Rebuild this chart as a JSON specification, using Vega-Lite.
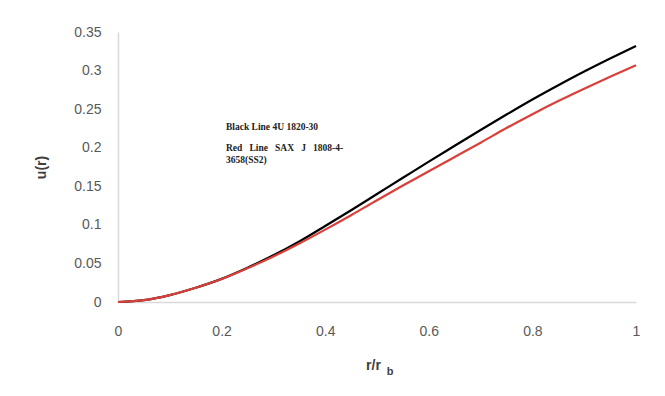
{
  "$schema": "https://vega.github.io/schema/vega-lite/v6.json",
  "autosize": "none",
  "width": 518,
  "height": 270,
  "padding": {"left": 118, "top": 32, "right": 29, "bottom": 94},
  "background": "white",
  "config": {"view": {"stroke": null}, "font": "Liberation Sans", "axis": {"labelOverlap": false}},
  "datasets": {
    "curves": [
      {"x": 0, "u": 0, "s": "black"},
      {"x": 0.05, "u": 0.0025, "s": "black"},
      {"x": 0.1, "u": 0.009, "s": "black"},
      {"x": 0.15, "u": 0.0185, "s": "black"},
      {"x": 0.2, "u": 0.030, "s": "black"},
      {"x": 0.25, "u": 0.0445, "s": "black"},
      {"x": 0.3, "u": 0.0605, "s": "black"},
      {"x": 0.35, "u": 0.0785, "s": "black"},
      {"x": 0.4, "u": 0.0985, "s": "black"},
      {"x": 0.45, "u": 0.119, "s": "black"},
      {"x": 0.5, "u": 0.140, "s": "black"},
      {"x": 0.55, "u": 0.161, "s": "black"},
      {"x": 0.6, "u": 0.182, "s": "black"},
      {"x": 0.65, "u": 0.2025, "s": "black"},
      {"x": 0.7, "u": 0.223, "s": "black"},
      {"x": 0.75, "u": 0.243, "s": "black"},
      {"x": 0.8, "u": 0.2625, "s": "black"},
      {"x": 0.85, "u": 0.281, "s": "black"},
      {"x": 0.9, "u": 0.2988, "s": "black"},
      {"x": 0.95, "u": 0.3157, "s": "black"},
      {"x": 1, "u": 0.332, "s": "black"},
      {"x": 0, "u": 0, "s": "red"},
      {"x": 0.05, "u": 0.0025, "s": "red"},
      {"x": 0.1, "u": 0.009, "s": "red"},
      {"x": 0.15, "u": 0.0185, "s": "red"},
      {"x": 0.2, "u": 0.0298, "s": "red"},
      {"x": 0.25, "u": 0.0438, "s": "red"},
      {"x": 0.3, "u": 0.059, "s": "red"},
      {"x": 0.35, "u": 0.0758, "s": "red"},
      {"x": 0.4, "u": 0.0938, "s": "red"},
      {"x": 0.45, "u": 0.1125, "s": "red"},
      {"x": 0.5, "u": 0.132, "s": "red"},
      {"x": 0.55, "u": 0.151, "s": "red"},
      {"x": 0.6, "u": 0.1695, "s": "red"},
      {"x": 0.65, "u": 0.188, "s": "red"},
      {"x": 0.7, "u": 0.2065, "s": "red"},
      {"x": 0.75, "u": 0.2255, "s": "red"},
      {"x": 0.8, "u": 0.2435, "s": "red"},
      {"x": 0.85, "u": 0.2605, "s": "red"},
      {"x": 0.9, "u": 0.2765, "s": "red"},
      {"x": 0.95, "u": 0.292, "s": "red"},
      {"x": 1, "u": 0.307, "s": "red"}
    ],
    "notes": [
      {"x": 0.2085, "u": 0.2269, "t": "Black Line 4U 1820-30"},
      {"x": 0.2085, "u": 0.1996, "t": "Red\u00a0\u00a0\u00a0Line\u00a0\u00a0\u00a0SAX\u00a0\u00a0\u00a0J\u00a0\u00a0\u00a01808-4-"},
      {"x": 0.2085, "u": 0.1840, "t": "3658(SS2)"}
    ],
    "sub": [{"x": 0.519, "u": -0.0905, "t": "b"}]
  },
  "encoding": {
    "x": {
      "field": "x", "type": "quantitative",
      "scale": {"domain": [0, 1], "nice": false},
      "axis": {
        "values": [0, 0.2, 0.4, 0.6, 0.8, 1],
        "format": "~g", "labelOverlap": false,
        "grid": false, "ticks": false, "domainColor": "#d9d9d9", "domainWidth": 1.5,
        "labelColor": "#595959", "labelFontSize": 14, "labelPadding": 22,
        "labelFlush": false,
        "title": "r/r", "titleFontSize": 14, "titleFontWeight": "bold", "titleColor": "#404040",
        "titlePadding": 20, "titleX": 255
      }
    },
    "y": {
      "field": "u", "type": "quantitative",
      "scale": {"domain": [0, 0.35], "nice": false},
      "axis": {
        "values": [0, 0.05, 0.1, 0.15, 0.2, 0.25, 0.3, 0.35],
        "format": "~g", "labelOverlap": false,
        "grid": false, "ticks": false, "domainColor": "#d9d9d9", "domainWidth": 1.5,
        "labelColor": "#595959", "labelFontSize": 14, "labelPadding": 17,
        "labelFlush": false,
        "title": "u(r)", "titleFontSize": 14, "titleFontWeight": "bold", "titleColor": "#404040",
        "titlePadding": 25
      }
    }
  },
  "layer": [
    {
      "data": {"name": "curves"},
      "mark": {"type": "line", "strokeWidth": 2.2, "interpolate": "monotone"},
      "encoding": {
        "color": {
          "field": "s", "type": "nominal",
          "scale": {"domain": ["black", "red"], "range": ["#000000", "#d9403a"]},
          "legend": null
        }
      }
    },
    {
      "data": {"name": "notes"},
      "mark": {"type": "text", "align": "left", "baseline": "middle", "font": "Liberation Serif", "fontWeight": "bold", "fontSize": 9.5, "color": "#222222"},
      "encoding": {
        "text": {"field": "t"}
      }
    },
    {
      "data": {"name": "sub"},
      "mark": {"type": "text", "align": "left", "baseline": "middle", "fontSize": 11, "fontWeight": "bold", "color": "#404040", "clip": false},
      "encoding": {
        "text": {"field": "t"}
      }
    }
  ]
}
